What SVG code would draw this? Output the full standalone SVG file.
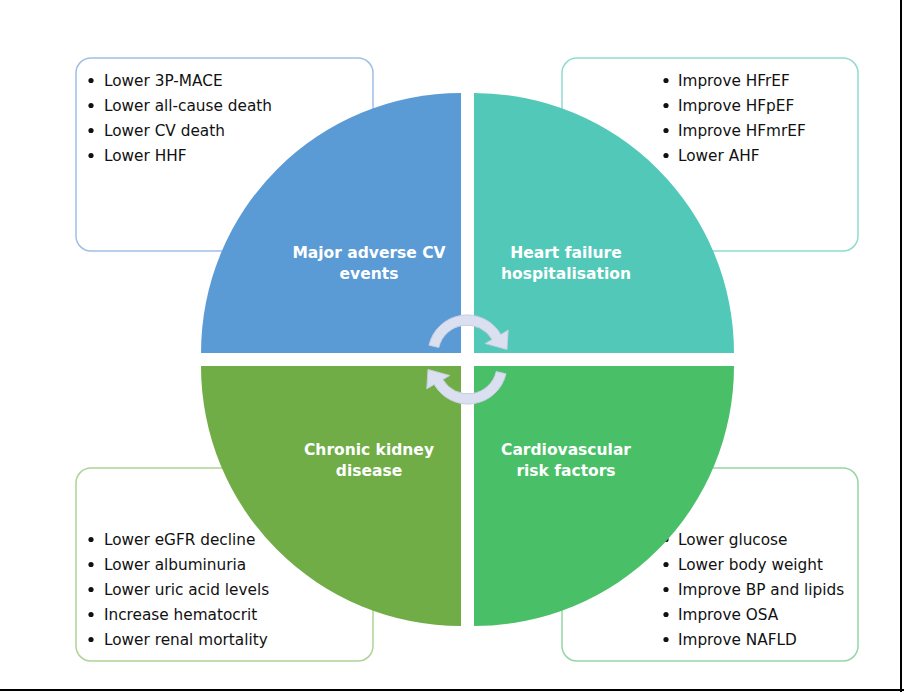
<svg xmlns="http://www.w3.org/2000/svg" width="904" height="692" viewBox="0 0 904 692">
<style>
  .box { fill: #ffffff; stroke-width: 1.5; }
  .item { font-family: "DejaVu Sans", Verdana, sans-serif; font-size: 15.3px; fill: #111111; }
  .title { font-family: "DejaVu Sans", Verdana, sans-serif; font-size: 15.5px; font-weight: bold; fill: #ffffff; text-anchor: middle; }
  .dot { fill: #111111; }
  .arrow { fill: #DAE0EF; stroke: #C6CDE2; stroke-width: 1; }
</style>
<defs>
  <path id="cyc" d="M 429,345.2 A 39 39 0 0 1 500.8,334.5 L 508.2,330.2 L 507,349.5 L 485.2,343.5 L 492.1,339.5 A 29 29 0 0 0 438.8,347.5 Z"/>
</defs>
<rect x="0" y="0" width="904" height="692" fill="#ffffff"/>

<g id="box-mace">
  <rect class="box" x="76" y="58" width="297" height="193" rx="15" stroke="#9DC0E6"/>
  <circle class="dot" cx="91" cy="80.5" r="2.6"/>
  <text class="item" x="104" y="86">Lower 3P-MACE</text>
  <circle class="dot" cx="91" cy="105.5" r="2.6"/>
  <text class="item" x="104" y="111">Lower all-cause death</text>
  <circle class="dot" cx="91" cy="130.5" r="2.6"/>
  <text class="item" x="104" y="136">Lower CV death</text>
  <circle class="dot" cx="91" cy="155.5" r="2.6"/>
  <text class="item" x="104" y="161">Lower HHF</text>
</g>

<g id="box-hf">
  <rect class="box" x="562" y="58" width="296" height="193" rx="15" stroke="#8FDCCF"/>
  <circle class="dot" cx="666" cy="80.5" r="2.6"/>
  <text class="item" x="678" y="86">Improve HFrEF</text>
  <circle class="dot" cx="666" cy="105.5" r="2.6"/>
  <text class="item" x="678" y="111">Improve HFpEF</text>
  <circle class="dot" cx="666" cy="130.5" r="2.6"/>
  <text class="item" x="678" y="136">Improve HFmrEF</text>
  <circle class="dot" cx="666" cy="155.5" r="2.6"/>
  <text class="item" x="678" y="161">Lower AHF</text>
</g>

<g id="box-ckd">
  <rect class="box" x="76" y="468" width="297" height="193" rx="15" stroke="#AFD296"/>
  <circle class="dot" cx="91" cy="539.5" r="2.6"/>
  <text class="item" x="104" y="545">Lower eGFR decline</text>
  <circle class="dot" cx="91" cy="564.5" r="2.6"/>
  <text class="item" x="104" y="570">Lower albuminuria</text>
  <circle class="dot" cx="91" cy="589.5" r="2.6"/>
  <text class="item" x="104" y="595">Lower uric acid levels</text>
  <circle class="dot" cx="91" cy="614.5" r="2.6"/>
  <text class="item" x="104" y="620">Increase hematocrit</text>
  <circle class="dot" cx="91" cy="639.5" r="2.6"/>
  <text class="item" x="104" y="645">Lower renal mortality</text>
</g>

<g id="box-risk">
  <rect class="box" x="562" y="468" width="296" height="193" rx="15" stroke="#95D6A6"/>
  <circle class="dot" cx="666" cy="539.5" r="2.6"/>
  <text class="item" x="678" y="545">Lower glucose</text>
  <circle class="dot" cx="666" cy="564.5" r="2.6"/>
  <text class="item" x="678" y="570">Lower body weight</text>
  <circle class="dot" cx="666" cy="589.5" r="2.6"/>
  <text class="item" x="678" y="595">Improve BP and lipids</text>
  <circle class="dot" cx="666" cy="614.5" r="2.6"/>
  <text class="item" x="678" y="620">Improve OSA</text>
  <circle class="dot" cx="666" cy="639.5" r="2.6"/>
  <text class="item" x="678" y="645">Improve NAFLD</text>
</g>

<g id="node-mace">
  <path d="M 461,353 L 201,353 A 260 260 0 0 1 461,93 Z" fill="#5B9BD5"/>
  <text class="title" x="369" y="258">Major adverse CV</text>
  <text class="title" x="369" y="279">events</text>
</g>
<g id="node-hf">
  <path d="M 474,353 L 474,93 A 260 260 0 0 1 734,353 Z" fill="#52C9B8"/>
  <text class="title" x="566" y="258">Heart failure</text>
  <text class="title" x="566" y="279">hospitalisation</text>
</g>
<g id="node-ckd">
  <path d="M 461,366 L 461,626 A 260 260 0 0 1 201,366 Z" fill="#70AD47"/>
  <text class="title" x="369" y="455">Chronic kidney</text>
  <text class="title" x="369" y="476">disease</text>
</g>
<g id="node-risk">
  <path d="M 474,366 L 734,366 A 260 260 0 0 1 474,626 Z" fill="#49BF68"/>
  <text class="title" x="566" y="455">Cardiovascular</text>
  <text class="title" x="566" y="476">risk factors</text>
</g>

<g id="connectors">
  <use href="#cyc" class="arrow"/>
  <use href="#cyc" class="arrow" transform="rotate(180 467.5 359.5)"/>
</g>

<g id="frame">
  <line x1="901" y1="0" x2="901" y2="692" stroke="#000000" stroke-width="2"/>
  <line x1="0" y1="690" x2="904" y2="690" stroke="#000000" stroke-width="2"/>
</g>
</svg>
